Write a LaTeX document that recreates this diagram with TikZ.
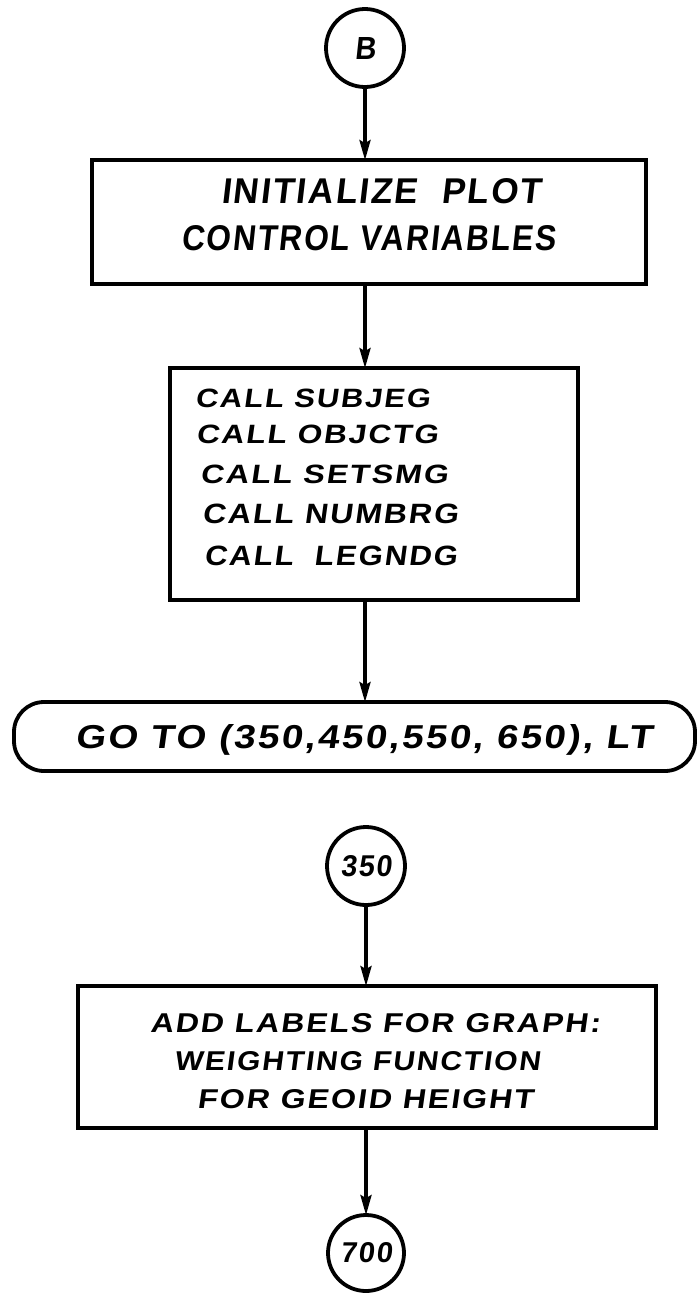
\documentclass[tikz,border=0pt]{standalone}
\usepackage{fontspec}
\newfontfamily\lett[FakeSlant=0.12,LetterSpace=6]{Liberation Sans}
\usetikzlibrary{arrows.meta}
\newcommand{\fitline}[3]{\resizebox{#1pt}{#2pt}{\lett\bfseries #3}}
\begin{document}
\begin{tikzpicture}[x=1pt,y=-1pt,
  boxnode/.style={draw, rectangle, inner sep=0pt, line width=3.8pt},
  termnode/.style={draw, rectangle, rounded corners=30pt, inner sep=0pt, line width=3.8pt},
  conn/.style={draw, circle, inner sep=0pt, line width=3.8pt},
  txt/.style={anchor=base west, inner sep=0pt, outer sep=0pt},
  flow/.style={-{Stealth[length=20pt,width=11pt,inset=3pt]}, line width=3.4pt, shorten >=-2pt}]
\useasboundingbox[fill=white] (0,0) rectangle (697,1294);

% connectors (circles)
\node[conn, minimum size=78pt] (B) at (365,48) {\fitline{21}{22}{B}};
\node[conn, minimum size=78pt] (c350) at (366,866) {\fitline{51}{21}{350}};
\node[conn, minimum size=76pt] (c700) at (366,1253) {\fitline{52}{20}{700}};

% boxes
\node[boxnode, minimum width=554pt, minimum height=124pt] (init) at (369,222) {};
\node[boxnode, minimum width=408pt, minimum height=232pt] (calls) at (374,484) {};
\node[termnode, minimum width=681pt, minimum height=69pt] (goto) at (354.5,736.5) {};
\node[boxnode, minimum width=578pt, minimum height=142pt] (labels) at (367,1057) {};

% texts
\node[txt] (i1) at (221,203) {\fitline{320}{25}{INITIALIZE\ \ PLOT}};
\node[txt] (i2) at (181,250) {\fitline{375}{25}{CONTROL VARIABLES}};

\node[txt] (k1) at (195,407) {\fitline{235}{18.5}{CALL SUBJEG}};
\node[txt] (k2) at (196,443) {\fitline{242}{18.5}{CALL OBJCTG}};
\node[txt] (k3) at (200,483) {\fitline{248}{18.5}{CALL SETSMG}};
\node[txt] (k4) at (202,523) {\fitline{256}{19.5}{CALL NUMBRG}};
\node[txt] (k5) at (204,565) {\fitline{253}{19.5}{CALL\ \ LEGNDG}};

\node[txt] (g1) at (75,748) {\fitline{577}{24}{GO TO (350,450,550, 650), LT}};

\node[txt] (l1) at (150,1032) {\fitline{450}{19}{ADD LABELS FOR GRAPH:}};
\node[txt] (l2) at (174,1070) {\fitline{366}{19}{WEIGHTING FUNCTION}};
\node[txt] (l3) at (197,1108) {\fitline{336}{19}{FOR GEOID HEIGHT}};

% flow lines
\draw[flow] (B.south) -- (B.south |- init.north);
\draw[flow] (init.south -| B.south) -- (B.south |- calls.north);
\draw[flow] (calls.south -| B.south) -- (B.south |- goto.north);
\draw[flow] (c350.south) -- (c350.south |- labels.north);
\draw[flow] (labels.south -| c700.north) -- (c700.north);
\end{tikzpicture}
\end{document}
